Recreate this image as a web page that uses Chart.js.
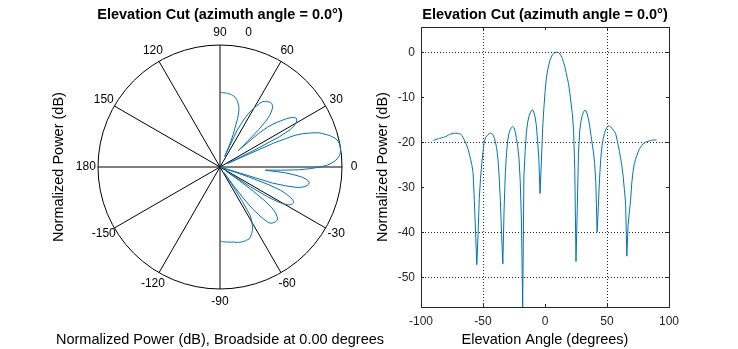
<!DOCTYPE html>
<html><head><meta charset="utf-8">
<script src="https://cdn.jsdelivr.net/npm/chart.js@4.4.0/dist/chart.umd.min.js"></script>
<style>
html,body{margin:0;padding:0;background:#fff;}
body{width:738px;height:349px;position:relative;overflow:hidden;}
#polar{position:absolute;left:0;top:0;}
#rect{position:absolute;left:370px;top:0;}
</style></head><body>
<canvas id="polar" width="410" height="349"></canvas>
<canvas id="rect" width="368" height="349"></canvas>
<script>
// ---- data ----
const elevationAngles = [
-90,-89,-88,-87,-86,-85,-84,-83,-82,-81,-80,-79,-78,-77,-76,-75,-74,-73,-72,-71,
-70,-69,-68,-67,-66,-65,-64,-63,-62,-61,-60,-59,-58,-57,-56,-55,-54,-53,-52,-51,
-50,-49,-48,-47,-46,-45,-44,-43,-42,-41,-40,-39,-38,-37,-36,-35,-34,-33,-32,-31,
-30,-29,-28,-27,-26,-25,-24,-23,-22,-21,-20,-19,-18,-17,-16,-15,-14,-13,-12,-11,
-10,-9,-8,-7,-6,-5,-4,-3,-2,-1,0,1,2,3,4,5,6,7,8,9,
10,11,12,13,14,15,16,17,18,19,20,21,22,23,24,25,26,27,28,29,
30,31,32,33,34,35,36,37,38,39,40,41,42,43,44,45,46,47,48,49,
50,51,52,53,54,55,56,57,58,59,60,61,62,63,64,65,66,67,68,69,
70,71,72,73,74,75,76,77,78,79,80,81,82,83,84,85,86,87,88,89,90];
const normalizedPowerDb = [
-19.6,-19.5,-19.4,-19.3,-19.2,-19.1,-19.1,-19.0,-18.9,-18.8,-18.8,-18.6,-18.4,-18.3,-18.2,-18.1,-18.0,-18.0,-18.0,-18.0,
-18.1,-18.1,-18.2,-18.5,-19.0,-19.5,-20.1,-20.8,-21.6,-22.6,-23.8,-25.0,-26.8,-33.0,-40.0,-47.2,-40.5,-32.5,-28.0,-24.8,
-22.1,-19.9,-19.0,-18.6,-18.3,-18.1,-18.0,-18.0,-18.3,-19.0,-20.0,-21.2,-23.5,-27.5,-33.0,-40.5,-47.0,-35.0,-27.0,-22.3,
-19.5,-18.0,-17.2,-16.7,-16.5,-16.8,-17.6,-19.2,-21.0,-23.5,-28.5,-37.5,-56.6,-27.5,-22.0,-17.8,-15.6,-14.3,-13.5,-13.0,
-12.8,-13.3,-14.4,-16.2,-19.5,-23.5,-31.4,-25.0,-17.5,-12.8,-9.0,-6.0,-4.2,-2.9,-1.8,-1.1,-0.6,-0.3,-0.1,0.0,
0.0,-0.1,-0.4,-0.8,-1.4,-2.3,-3.2,-4.5,-5.8,-7.0,-9.0,-11.3,-13.6,-17.0,-26.0,-46.5,-35.0,-22.5,-17.5,-15.4,
-14.1,-13.3,-12.9,-13.0,-13.7,-14.8,-16.3,-18.3,-20.2,-22.1,-24.5,-29.0,-39.9,-34.5,-28.0,-23.5,-20.8,-19.2,-18.0,-17.2,
-16.7,-16.4,-16.4,-16.6,-16.9,-17.3,-17.6,-18.1,-19.3,-20.7,-22.0,-23.6,-25.3,-27.5,-30.5,-33.5,-45.3,-38.5,-35.5,-33.0,
-29.0,-26.5,-24.8,-23.8,-23.0,-22.2,-21.6,-21.1,-20.7,-20.4,-20.2,-20.0,-19.9,-19.8,-19.7,-19.6,-19.6,-19.5,-19.5,-19.5,-19.5];

const polarAngleTicks  = [0, 30, 60, 90, 120, 150, 180, -150, -120, -90, -60, -30];
const polarAngleLabels = ['0','30','60','90','120','150','180','-150','-120','-90','-60','-30'];
const polarRange = [-50, 0];          // radial dB range of the polar plot
const polarMagnitudeLabel = '0';      // radial tick label (max of range)
const xGridValues = [-50, 50];        // dotted grid lines visible in the reference
const yGridValues = [0, -20, -40, -50];
const yRange = [-56.6, 5.6];
const xRange = [-100, 100];

const titleText = 'Elevation Cut (azimuth angle = 0.0\u00B0)';
const lineColor = '#0072BD';
const axisColor = '#262626';
const bigFont = 14.5;

Chart.defaults.font.family = "'Liberation Sans', Arial, sans-serif";
Chart.defaults.font.size = 12;
Chart.defaults.color = '#000';

// ---- polar (radar) chart ----
const radarLabels = [];
const radarData = [];
for (let i = 0; i < 360; i++) { radarLabels.push(String(90 - i)); radarData.push(null); }
elevationAngles.forEach((a, k) => {
  const idx = ((90 - a) % 360 + 360) % 360;
  radarData[idx] = Math.max(normalizedPowerDb[k], polarRange[0]);
});
const angleToIndex = a => ((90 - a) % 360 + 360) % 360;

const polarLabelPlugin = {
  id: 'polarLabels',
  afterDraw(chart) {
    const s = chart.scales.r;
    const ctx = chart.ctx;
    ctx.save();
    ctx.font = "12px 'Liberation Sans', Arial, sans-serif";
    ctx.fillStyle = '#000';
    ctx.textAlign = 'center';
    ctx.textBaseline = 'middle';
    polarAngleTicks.forEach((t, j) => {
      const p = s.getPointPosition(angleToIndex(t), s.drawingArea * 1.1);
      ctx.fillText(polarAngleLabels[j], p.x, p.y);
    });
    const pm = s.getPointPosition(angleToIndex(78), s.drawingArea * 1.128);
    ctx.fillText(polarMagnitudeLabel, pm.x, pm.y);
    ctx.restore();
  }
};

new Chart(document.getElementById('polar'), {
  type: 'radar',
  data: { labels: radarLabels, datasets: [{
    data: radarData, borderColor: lineColor, borderWidth: 1, pointRadius: 0,
    fill: false, spanGaps: false, clip: false, borderJoinStyle: 'round'
  }]},
  options: {
    responsive: false, animation: false, devicePixelRatio: 1,
    layout: { padding: 0 },
    plugins: {
      legend: { display: false }, tooltip: { enabled: false },
      title: { display: true, text: titleText, fullSize: false, color: '#000',
        font: { size: bigFont, weight: 'bold' }, padding: { top: 6.4, bottom: 21.2 } },
      subtitle: { display: true, position: 'bottom', fullSize: false, color: '#000',
        text: 'Normalized Power (dB), Broadside at 0.00 degrees',
        font: { size: bigFont, weight: 'normal' }, padding: { top: 42.6, bottom: 0 } }
    },
    scales: {
      r: {
        min: polarRange[0], max: polarRange[1], startAngle: 0,
        ticks: { display: false, stepSize: 50 },
        pointLabels: { display: false },
        grid: { circular: true,
          color: c => (c.tick && c.tick.value === polarRange[1]) ? '#000' : 'rgba(0,0,0,0)',
          lineWidth: 1 },
        angleLines: { display: true, color: '#000', lineWidth: c => (c.index % 30 === 0 ? 1 : 0) }
      },
      y: {
        type: 'linear', position: 'left', min: 0, max: 1,
        ticks: { display: false }, grid: { display: false }, border: { display: false },
        title: { display: true, text: 'Normalized Power (dB)', color: '#000',
          font: { size: bigFont }, padding: { top: 50.6, bottom: 0 } },
        afterFit: s => { s.width = 30; }
      }
    }
  },
  plugins: [polarLabelPlugin]
});

// ---- cartesian chart ----
const tickLen = -3;
new Chart(document.getElementById('rect'), {
  type: 'line',
  data: { datasets: [{
    data: elevationAngles.map((a, k) => ({ x: a, y: normalizedPowerDb[k] })),
    borderColor: lineColor, borderWidth: 1, pointRadius: 0, tension: 0, fill: false,
    borderJoinStyle: 'round'
  }]},
  options: {
    responsive: false, animation: false, devicePixelRatio: 1,
    layout: { padding: { left: 0, right: 69, top: 0, bottom: 0 } },
    plugins: {
      legend: { display: false }, tooltip: { enabled: false },
      title: { display: true, text: titleText, fullSize: false, color: '#000',
        font: { size: bigFont, weight: 'bold' }, padding: { top: 6.4, bottom: 3.2 } }
    },
    scales: {
      x: {
        type: 'linear', position: 'bottom', min: xRange[0], max: xRange[1],
        ticks: { stepSize: 50, color: axisColor, padding: 10, maxRotation: 0, autoSkip: false },
        grid: { color: c => (c.tick && xGridValues.includes(c.tick.value)) ? axisColor : 'rgba(0,0,0,0)',
          tickColor: axisColor, tickLength: tickLen, lineWidth: 1 },
        border: { display: true, color: axisColor, width: 1, dash: [1, 2] },
        title: { display: true, text: 'Elevation Angle (degrees)', color: '#000',
          font: { size: bigFont }, padding: { top: 0, bottom: 0.5 } },
        afterFit: s => { s.height = 42; }
      },
      y: {
        type: 'linear', position: 'left', min: yRange[0], max: yRange[1],
        ticks: { stepSize: 10, includeBounds: false, color: axisColor, padding: 9 },
        grid: { color: c => (c.tick && yGridValues.includes(c.tick.value)) ? axisColor : 'rgba(0,0,0,0)',
          tickColor: axisColor, tickLength: tickLen, lineWidth: 1 },
        border: { display: true, color: axisColor, width: 1, dash: [1, 2] },
        title: { display: true, text: 'Normalized Power (dB)', color: '#000',
          font: { size: bigFont }, padding: { top: 4.6, bottom: 0 } },
        afterFit: s => { s.width = 51; }
      },
      x2: {
        type: 'linear', position: 'top', min: xRange[0], max: xRange[1],
        ticks: { display: false, stepSize: 50 },
        grid: { drawOnChartArea: false, color: axisColor, tickColor: axisColor, tickLength: tickLen },
        border: { display: true, color: axisColor, width: 1 },
        afterFit: s => { s.height = 0; }
      },
      y2: {
        type: 'linear', position: 'right', min: yRange[0], max: yRange[1],
        ticks: { display: false, stepSize: 10, includeBounds: false },
        grid: { drawOnChartArea: false, color: axisColor, tickColor: axisColor, tickLength: tickLen },
        border: { display: true, color: axisColor, width: 1 },
        afterFit: s => { s.width = 0; }
      }
    }
  }
});
</script>
</body></html>
